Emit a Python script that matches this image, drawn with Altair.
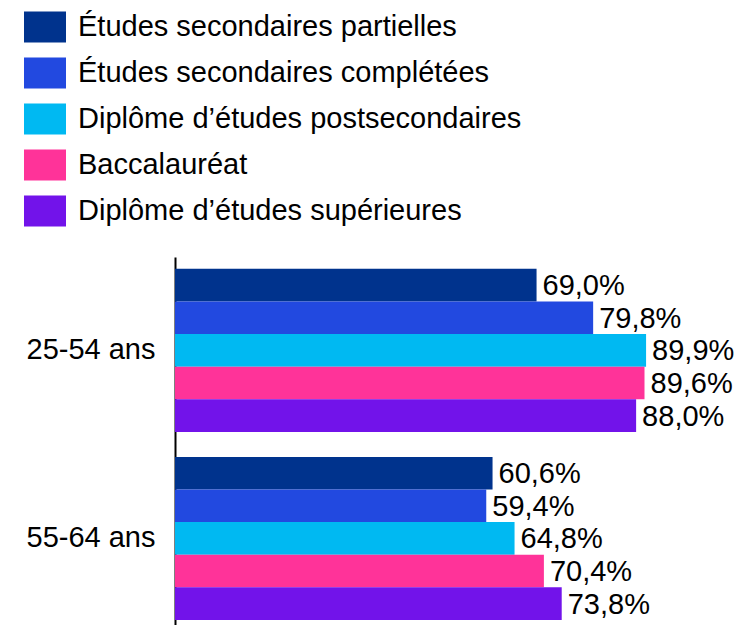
import altair as alt
import pandas as pd

groups = ["25-54 ans", "55-64 ans"]
categories = [
    "Études secondaires partielles",
    "Études secondaires complétées",
    "Diplôme d’études postsecondaires",
    "Baccalauréat",
    "Diplôme d’études supérieures",
]
values_25_54 = [69.0, 79.8, 89.9, 89.6, 88.0]
values_55_64 = [60.6, 59.4, 64.8, 70.4, 73.8]
colors = ["#00338d", "#2249e0", "#00b9f2", "#ff3399", "#7213ea"]

rows = []
for g, vals in zip(groups, [values_25_54, values_55_64]):
    for i, (c, v) in enumerate(zip(categories, vals)):
        rows.append({"groupe": g, "cat": c, "ordre": i, "val": v})
df = pd.DataFrame(rows)

FONT = "Liberation Sans"
FS = 29

base = alt.Chart(df).transform_calculate(
    label="replace(format(datum.val, '.1f'), '.', ',') + '%'"
)

y_enc = alt.Y(
    "groupe:N",
    sort=groups,
    scale=alt.Scale(paddingInner=0.133, paddingOuter=0.045, align=0.7),
    axis=alt.Axis(
        title=None, ticks=False, domainColor="black", domainWidth=2,
        labelFontSize=FS, labelColor="black", labelFont=FONT, labelPadding=20,
        grid=False,
    ),
)
yoff = alt.YOffset("cat:N", sort=categories, scale=alt.Scale(paddingInner=0, paddingOuter=0))
x_enc = alt.X("val:Q", scale=alt.Scale(domain=[0, 100]), axis=None)

bars = base.mark_bar(cornerRadius=0).encode(
    y=y_enc,
    yOffset=yoff,
    x=x_enc,
    color=alt.Color(
        "cat:N",
        sort=categories,
        scale=alt.Scale(domain=categories, range=colors),
        legend=alt.Legend(
            title=None, orient="none", legendX=-151, legendY=-251,
            symbolType="M-1,-0.738H1V0.738H-1Z", symbolSize=1764,
            symbolStrokeWidth=0, symbolOpacity=1,
            labelFontSize=FS, labelFont=FONT, labelColor="black",
            labelOffset=12, rowPadding=9, padding=0, labelLimit=700,
        ),
    ),
)

texts = base.mark_text(align="left", baseline="middle", dx=6, dy=1, fontSize=FS, font=FONT, color="black").encode(
    y=alt.Y("groupe:N", sort=groups),
    yOffset=yoff,
    x=x_enc,
    text="label:N",
)

chart = (
    alt.layer(bars, texts)
    .properties(width=524, height=368, autosize=alt.AutoSizeParams(type="none"),
                background="white",
                padding={"left": 167, "top": 249, "right": 36, "bottom": 0})
    .configure_view(stroke=None, strokeWidth=0)
)

chart.save("out.html", embed_options={"renderer": "svg", "actions": False})
